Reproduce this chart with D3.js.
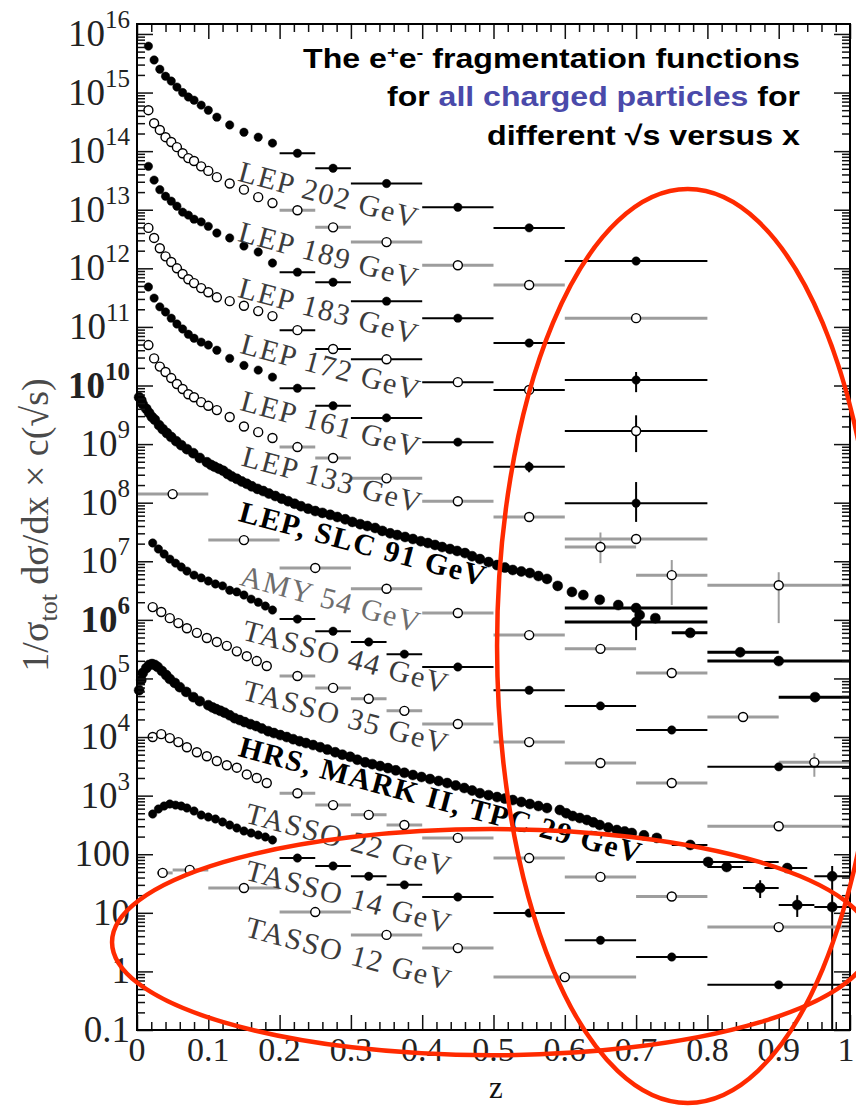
<!DOCTYPE html>
<html>
<head>
<meta charset="utf-8">
<script src="https://cdn.jsdelivr.net/npm/d3@7"></script>
<style>
  body { margin: 0; background: #fff; }
  svg { display: block; }
</style>
</head>
<body>
<script>
// ---- data ----

// LEP samples share the fine low-z binning and the wide high-z bins
var lepDenseZ = [0.016, 0.024, 0.032, 0.040, 0.048, 0.056, 0.064, 0.072, 0.080, 0.090, 0.100, 0.112, 0.130, 0.150, 0.170, 0.190];
var lepBinZ  = [0.225, 0.275, 0.35, 0.45, 0.55, 0.70];
var lepBinLo = [0.20, 0.25, 0.30, 0.40, 0.50, 0.60];
var lepBinHi = [0.25, 0.30, 0.40, 0.50, 0.60, 0.80];

var lep202Dense = [6.2e15, 3.6e15, 2.5e15, 1.9e15, 1.57e15, 1.24e15, 1.0e15, 8.4e14, 7.4e14, 6.1e14, 5.0e14, 3.8e14, 2.8e14, 2.1e14, 1.73e14, 1.37e14];
var lep202Bins  = [9.2e13, 5.1e13, 2.8e13, 1.1e13, 4.9e12, 1.33e12];
var lep189Dense = [5.0e14, 3.0e14, 2.3e14, 1.73e14, 1.43e14, 1.17e14, 9.2e13, 7.6e13, 6.8e13, 5.5e13, 4.6e13, 3.6e13, 2.8e13, 2.2e13, 1.64e13, 1.3e13];
var lep189Bins  = [9.8e12, 5.0e12, 2.8e12, 1.13e12, 5.2e11, 1.41e11];
var lep183Dense = [5.5e13, 3.2e13, 2.2e13, 1.7e13, 1.4e13, 1.15e13, 9.1e12, 8.1e12, 6.9e12, 6.2e12, 5.2e12, 4.0e12, 3.3e12, 2.4e12, 1.9e12, 1.23e12];
var lep183Bins  = [8.6e11, 5.8e11, 2.75e11, 1.41e11, 5.3e10, 1.24e10];
var lep183Err   = [null, null, null, null, null, [7.7e9, 1.7e10]];
var lep172Dense = [4.9e12, 3.3e12, 2.2e12, 1.6e12, 1.28e12, 1.0e12, 8.0e11, 6.5e11, 5.6e11, 4.6e11, 3.9e11, 3.2e11, 2.75e11, 2.3e11, 1.86e11, 1.53e11];
var lep172Bins  = [8.8e10, 4.2e10, 2.8e10, 1.14e10, 8.4e9, 1.67e9];
var lep172Err   = [null, null, null, null, null, [7.3e8, 3.1e9]];
var lep161Dense = [4.8e11, 3.1e11, 2.2e11, 1.8e11, 1.41e11, 1.12e11, 9.2e10, 7.5e10, 6.4e10, 5.5e10, 4.9e10, 4.0e10, 2.9e10, 2.2e10, 1.83e10, 1.39e10];
var lep161Bins  = [9.0e9, 4.5e9, 2.8e9, 1.08e9, 4.1e8, 9.8e7];
var lep161Err   = [null, null, null, null, [3.3e8, 5.0e8], [4.7e7, 2.25e8]];
var lep133Dense = [4.9e10, 2.9e10, 2.1e10, 1.7e10, 1.34e10, 1.06e10, 8.7e9, 7.1e9, 6.3e9, 5.2e9, 4.5e9, 3.8e9, 2.9e9, 2.0e9, 1.6e9, 1.27e9];
var lep133Bins  = [8.9e8, 5.8e8, 2.6e8, 1.06e8, 5.7e7, 2.4e7];
// second 133 GeV set at high z
var lep133bZ    = [0.65, 0.75, 0.90];
var lep133bLo   = [0.60, 0.70, 0.80];
var lep133bHi   = [0.70, 0.80, 1.00];
var lep133bBins = [1.75e7, 5.8e6, 3.9e6];
var lep133bErr  = [[9.3e6, 3.1e7], [1.79e6, 1.05e7], [8.8e5, 6.5e6]];

// LEP, SLC 91 GeV (two overlapping sets make the thick band)
var slc91Z = [0.003, 0.006, 0.008, 0.013, 0.017, 0.021, 0.025, 0.031, 0.036, 0.042, 0.048, 0.055, 0.062, 0.070, 0.079, 0.088, 0.098, 0.109, 0.121, 0.133, 0.147, 0.161, 0.177, 0.194, 0.212, 0.230, 0.250, 0.271, 0.292, 0.313, 0.334, 0.355, 0.376, 0.398, 0.418, 0.439, 0.460, 0.481, 0.505, 0.527, 0.551, 0.575, 0.610, 0.626, 0.649, 0.675, 0.705, 0.727];
var slc91Dense = [6.3e9, 5.6e9, 4.8e9, 4.0e9, 3.4e9, 2.9e9, 2.6e9, 2.1e9, 1.8e9, 1.54e9, 1.32e9, 1.12e9, 9.6e8, 8.2e8, 7.0e8, 5.8e8, 4.9e8, 4.1e8, 3.5e8, 2.8e8, 2.3e8, 1.9e8, 1.58e8, 1.3e8, 1.06e8, 8.7e7, 7.2e7, 6.2e7, 5.2e7, 4.3e7, 3.7e7, 3.0e7, 2.6e7, 2.2e7, 1.9e7, 1.62e7, 1.38e7, 1.09e7, 8.6e6, 7.1e6, 6.3e6, 5.0e6, 3.0e6, 2.65e6, 2.2e6, 1.79e6, 1.21e6, 1.07e6];
var slc91bZ = [0.104, 0.115, 0.127, 0.140, 0.154, 0.169, 0.185, 0.203, 0.221, 0.240, 0.260, 0.281, 0.302, 0.323, 0.344, 0.365, 0.387, 0.408, 0.428, 0.449, 0.470, 0.493, 0.516, 0.539, 0.563, 0.590];
var slc91bDense = [4.4e8, 3.8e8, 3.1e8, 2.55e8, 2.1e8, 1.72e8, 1.43e8, 1.17e8, 9.6e7, 7.9e7, 6.7e7, 5.7e7, 4.7e7, 4.0e7, 3.3e7, 2.8e7, 2.4e7, 2.05e7, 1.75e7, 1.5e7, 1.22e7, 9.7e6, 7.8e6, 6.7e6, 5.6e6, 3.8e6];
var slc91BinZ  = [0.70, 0.70, 0.776, 0.846, 0.90, 0.951];
var slc91BinLo = [0.60, 0.60, 0.75, 0.80, 0.80, 0.90];
var slc91BinHi = [0.80, 0.80, 0.80, 0.90, 1.00, 1.00];
var slc91Bins  = [1.59e6, 9.2e5, 6.0e5, 2.8e5, 1.98e5, 4.8e4];
var slc91Err   = [null, [4.5e5, 1.79e6], null, null, null, null];

// AMY 54 GeV
var amy54Z    = [0.05, 0.15, 0.25, 0.35, 0.45, 0.55, 0.65, 0.75, 0.85, 0.95];
var amy54Lo   = [0.00, 0.10, 0.20, 0.30, 0.40, 0.50, 0.60, 0.70, 0.80, 0.90];
var amy54Hi   = [0.10, 0.20, 0.30, 0.40, 0.50, 0.60, 0.70, 0.80, 0.90, 1.00];
var amy54Bins = [1.4e8, 2.3e7, 7.7e6, 3.4e6, 1.31e6, 5.5e5, 3.2e5, 1.24e5, 2.2e4, 3.7e3];
var amy54Err  = [null, null, null, null, null, null, null, null, null, [2.1e3, 5.3e3]];

// TASSO binning
var tassoDenseZ = [0.022, 0.030, 0.038, 0.046, 0.054, 0.062, 0.070, 0.080, 0.090, 0.100, 0.110, 0.120, 0.130, 0.140, 0.150, 0.160, 0.170, 0.180, 0.190];
var tassoOpenZ  = [0.022, 0.034, 0.046, 0.058, 0.070, 0.084, 0.098, 0.112, 0.126, 0.140, 0.154, 0.168, 0.182];
var tassoBinZ  = [0.225, 0.275, 0.325, 0.375, 0.45, 0.55, 0.65, 0.75, 0.90];
var tassoBinLo = [0.20, 0.25, 0.30, 0.35, 0.40, 0.50, 0.60, 0.70, 0.80];
var tassoBinHi = [0.25, 0.30, 0.35, 0.40, 0.50, 0.60, 0.70, 0.80, 1.00];

var tasso44Dense = [2.05e7, 1.62e7, 1.33e7, 1.09e7, 9.3e6, 8.0e6, 6.8e6, 5.8e6, 5.2e6, 4.6e6, 4.1e6, 3.8e6, 3.2e6, 3.0e6, 2.65e6, 2.26e6, 2.0e6, 1.72e6, 1.47e6];
var tasso44Bins  = [1.03e6, 6.4e5, 4.2e5, 2.6e5, 1.57e5, 6.3e4, 3.4e4, 1.32e4, 3.1e3];
var tasso35Dense = [1.65e6, 1.36e6, 1.07e6, 8.8e5, 7.2e5, 6.0e5, 4.9e5, 4.2e5, 3.6e5, 2.9e5, 2.4e5, 1.98e5, 1.63e5];
var tasso35Bins  = [1.1e5, 6.9e4, 4.5e4, 2.8e4, 1.67e4, 8.2e3, 3.6e3, 1.64e3, 300];
var tasso22Dense = [1.0e4, 1.12e4, 9.6e3, 8.2e3, 6.7e3, 5.5e3, 4.7e3, 3.9e3, 3.3e3, 3.0e3, 2.3e3, 2.0e3, 1.64e3];
var tasso22Bins  = [1100, 690, 470, 315, 190, 86, 41, 19, 5.7];
var tasso14Dense = [485, 590, 664, 720, 690, 664, 614, 546, 467, 431, 399, 355, 315, 280, 249, 230, 213, 197, 175];
var tasso14Bins  = [86, 63, 42, 30, 18.6, 9.9, 3.4, 1.76, 0.59];

var tasso12Z    = [0.036, 0.074, 0.15, 0.25, 0.35, 0.45, 0.60];
var tasso12Lo   = [0.028, 0.05, 0.10, 0.20, 0.30, 0.40, 0.50];
var tasso12Hi   = [0.05, 0.10, 0.20, 0.30, 0.40, 0.50, 0.70];
var tasso12Bins = [48, 54, 26.5, 10.3, 4.2, 2.5, 0.80];

// HRS, MARK II, TPC 29 GeV (two overlapping sets)
var hrs29Z = [0.003, 0.006, 0.008, 0.013, 0.017, 0.021, 0.025, 0.029, 0.035, 0.041, 0.046, 0.053, 0.060, 0.069, 0.079, 0.088, 0.100, 0.111, 0.123, 0.137, 0.151, 0.167, 0.184, 0.201, 0.219, 0.237, 0.257, 0.278, 0.299, 0.320, 0.341, 0.363, 0.387, 0.411, 0.435, 0.459, 0.481, 0.505, 0.527, 0.551, 0.575, 0.593, 0.611, 0.631, 0.649, 0.673, 0.694, 0.729];
var hrs29Dense = [6.3e4, 9.4e4, 1.24e5, 1.5e5, 1.7e5, 1.76e5, 1.7e5, 1.57e5, 1.34e5, 1.14e5, 9.8e4, 8.4e4, 7.1e4, 5.9e4, 4.8e4, 4.1e4, 3.5e4, 3.0e4, 2.6e4, 2.1e4, 1.8e4, 1.54e4, 1.26e4, 1.08e4, 9.2e3, 7.9e3, 6.7e3, 5.5e3, 4.6e3, 3.7e3, 3.2e3, 2.7e3, 2.25e3, 1.92e3, 1.64e3, 1.35e3, 1.1e3, 946, 841, 720, 614, 568, 449, 384, 315, 259, 230, 190];
var hrs29bZ = [0.106, 0.117, 0.130, 0.144, 0.159, 0.175, 0.192, 0.210, 0.228, 0.247, 0.267, 0.288, 0.309, 0.330, 0.352, 0.375, 0.399, 0.423, 0.447, 0.470, 0.493, 0.516, 0.539, 0.563, 0.602, 0.621, 0.640, 0.661, 0.684, 0.711];
var hrs29bDense = [3.2e4, 2.8e4, 2.35e4, 1.95e4, 1.66e4, 1.4e4, 1.17e4, 1.0e4, 8.5e3, 7.3e3, 6.1e3, 5.0e3, 4.1e3, 3.45e3, 2.95e3, 2.45e3, 2.08e3, 1.78e3, 1.49e3, 1.22e3, 1.02e3, 890, 780, 665, 500, 415, 350, 285, 245, 210];
var hrs29BinZ  = [0.776, 0.801, 0.827, 0.874, 0.912, 0.926, 0.975, 0.975];
var hrs29BinLo = [0.75, 0.70, 0.80, 0.85, 0.88, 0.90, 0.95, 0.95];
var hrs29BinHi = [0.80, 0.90, 0.85, 0.90, 0.94, 0.95, 1.00, 1.00];
var hrs29Bins  = [144, 74, 60.5, 26.5, 58, 13.6, 42, 12.6];
var hrs29Err   = [null, null, null, [17.9, 36], null, [8.5, 20], [0.1, 63], null];

// curve labels and where they sit
var labelText = ["LEP 202 GeV", "LEP 189 GeV", "LEP 183 GeV", "LEP 172 GeV", "LEP 161 GeV", "LEP 133 GeV",
                 "LEP, SLC 91 GeV", "AMY 54 GeV", "TASSO 44 GeV", "TASSO 35 GeV",
                 "HRS, MARK II, TPC 29 GeV", "TASSO 22 GeV", "TASSO 14 GeV", "TASSO 12 GeV"];
var labelZ = [0.268, 0.268, 0.268, 0.271, 0.271, 0.273, 0.316, 0.271, 0.292, 0.292, 0.425, 0.296, 0.296, 0.296];
var labelV = [1.6e13, 1.5e12, 1.66e11, 1.83e10, 1.95e9, 2.2e8, 1.75e7, 2.0e6, 2.06e5, 1.95e4, 748, 155, 16.5, 1.78];

var xTicks = [0, 0.1, 0.2, 0.3, 0.4, 0.5, 0.6, 0.7, 0.8, 0.9, 1];
var xTickLabels = ["0", "0.1", "0.2", "0.3", "0.4", "0.5", "0.6", "0.7", "0.8", "0.9", "1"];
var yTicks = [0.1, 1, 10, 100, 1e3, 1e4, 1e5, 1e6, 1e7, 1e8, 1e9, 1e10, 1e11, 1e12, 1e13, 1e14, 1e15, 1e16];
var yTickExp = [-1, 0, 1, 2, 3, 4, 5, 6, 7, 8, 9, 10, 11, 12, 13, 14, 15, 16];

// hand-drawn red ellipses (bounding boxes in data units)
var circledZ0 = [0.505, -0.035], circledZ1 = [1.04, 1.03];
var circledV0 = [5.7e-3, 0.037], circledV1 = [2.25e13, 269];

// ---- drawing ----
var width = 856,
    height = 1106;

var serif = "'Liberation Serif', 'Times New Roman', 'DejaVu Serif', serif";
var sans = "'Liberation Sans', Arial, Helvetica, sans-serif";

var svg = d3.select("body").append("svg")
    .attr("width", width)
    .attr("height", height);

svg.append("rect").attr("width", width).attr("height", height).attr("fill", "#fff");

var x = d3.scaleLinear().domain([0, 1]).range([137, 850]);
var y = d3.scaleLog().domain([0.1, Math.pow(10, 16.17)]).range([1030, 24]);

var gray = "#9d9d9d";

var series = [
  {z: lepDenseZ, v: lep202Dense, bz: lepBinZ, blo: lepBinLo, bhi: lepBinHi, bv: lep202Bins, open: false},
  {z: lepDenseZ, v: lep189Dense, bz: lepBinZ, blo: lepBinLo, bhi: lepBinHi, bv: lep189Bins, open: true},
  {z: lepDenseZ, v: lep183Dense, bz: lepBinZ, blo: lepBinLo, bhi: lepBinHi, bv: lep183Bins, berr: lep183Err, open: false},
  {z: lepDenseZ, v: lep172Dense, bz: lepBinZ, blo: lepBinLo, bhi: lepBinHi, bv: lep172Bins, berr: lep172Err, open: true, bar: "#000"},
  {z: lepDenseZ, v: lep161Dense, bz: lepBinZ, blo: lepBinLo, bhi: lepBinHi, bv: lep161Bins, berr: lep161Err, open: false},
  {z: lepDenseZ, v: lep133Dense, bz: lepBinZ, blo: lepBinLo, bhi: lepBinHi, bv: lep133Bins, open: true},
  {bz: lep133bZ, blo: lep133bLo, bhi: lep133bHi, bv: lep133bBins, berr: lep133bErr, open: true},
  {z: slc91Z, v: slc91Dense, bz: slc91BinZ, blo: slc91BinLo, bhi: slc91BinHi, bv: slc91Bins, berr: slc91Err, open: false, r: 5, barW: 3},
  {z: slc91bZ, v: slc91bDense, open: false, r: 5},
  {bz: amy54Z, blo: amy54Lo, bhi: amy54Hi, bv: amy54Bins, berr: amy54Err, open: true},
  {z: tassoDenseZ, v: tasso44Dense, bz: tassoBinZ, blo: tassoBinLo, bhi: tassoBinHi, bv: tasso44Bins, open: false},
  {z: tassoOpenZ, v: tasso35Dense, bz: tassoBinZ, blo: tassoBinLo, bhi: tassoBinHi, bv: tasso35Bins, open: true},
  {z: hrs29Z, v: hrs29Dense, bz: hrs29BinZ, blo: hrs29BinLo, bhi: hrs29BinHi, bv: hrs29Bins, berr: hrs29Err, open: false, r: 5},
  {z: hrs29bZ, v: hrs29bDense, open: false, r: 5},
  {z: tassoOpenZ, v: tasso22Dense, bz: tassoBinZ, blo: tassoBinLo, bhi: tassoBinHi, bv: tasso22Bins, open: true},
  {z: tassoDenseZ, v: tasso14Dense, bz: tassoBinZ, blo: tassoBinLo, bhi: tassoBinHi, bv: tasso14Bins, open: false},
  {bz: tasso12Z, blo: tasso12Lo, bhi: tasso12Hi, bv: tasso12Bins, open: true}
];

var gData = svg.append("g").attr("class", "data");

series.forEach(function(s) {
  var g = gData.append("g");
  var barColor = s.bar || (s.open ? gray : "#000");
  var barW = s.barW || (s.open && !s.bar ? 3 : 2);

  var bins = (s.bz || []).map(function(z, i) {
    return {z: z, lo: s.blo[i], hi: s.bhi[i], v: s.bv[i], err: s.berr ? s.berr[i] : null};
  });
  var dense = (s.z || []).map(function(z, i) { return {z: z, v: s.v[i]}; });

  g.selectAll("line.h").data(bins).enter().append("line")
      .attr("class", "h")
      .attr("x1", function(d) { return x(d.lo); })
      .attr("x2", function(d) { return x(d.hi); })
      .attr("y1", function(d) { return y(d.v); })
      .attr("y2", function(d) { return y(d.v); })
      .attr("stroke", barColor)
      .attr("stroke-width", barW);

  g.selectAll("line.v").data(bins.filter(function(d) { return d.err; })).enter().append("line")
      .attr("class", "v")
      .attr("x1", function(d) { return x(d.z); })
      .attr("x2", function(d) { return x(d.z); })
      .attr("y1", function(d) { return y(d.err[0]); })
      .attr("y2", function(d) { return y(d.err[1]); })
      .attr("stroke", barColor)
      .attr("stroke-width", 2);

  g.selectAll("circle").data(dense.concat(bins)).enter().append("circle")
      .attr("cx", function(d) { return x(d.z); })
      .attr("cy", function(d) { return y(d.v); })
      .attr("r", s.r || (s.open ? 4.5 : 4.2))
      .attr("fill", s.open ? "#fff" : "#000")
      .attr("stroke", "#000")
      .attr("stroke-width", s.open ? 1.4 : 0.5);
});

// ---- axes: ticks on all four sides, pointing in ----
var xMinor = d3.range(0, 1.001, 0.02).filter(function(t) { return Math.abs(t * 10 - Math.round(t * 10)) > 1e-6; });
var yMinor = [];
yTicks.slice(0, -1).forEach(function(t) {
  for (var m = 2; m <= 9; m++) yMinor.push(t * m);
});

function tickStyle(sel) {
  sel.select(".domain").remove();
  sel.selectAll("line").attr("stroke", "#111").attr("stroke-width", 1.5);
}

svg.append("g").attr("transform", "translate(0,1030)")
    .call(d3.axisBottom(x).tickValues(xTicks).tickSizeInner(-15).tickSizeOuter(0).tickFormat(""))
    .call(tickStyle);
svg.append("g").attr("transform", "translate(0,1030)")
    .call(d3.axisBottom(x).tickValues(xMinor).tickSizeInner(-8).tickSizeOuter(0).tickFormat(""))
    .call(tickStyle);
svg.append("g").attr("transform", "translate(0,24)")
    .call(d3.axisTop(x).tickValues(xTicks).tickSizeInner(-15).tickSizeOuter(0).tickFormat(""))
    .call(tickStyle);
svg.append("g").attr("transform", "translate(0,24)")
    .call(d3.axisTop(x).tickValues(xMinor).tickSizeInner(-8).tickSizeOuter(0).tickFormat(""))
    .call(tickStyle);
svg.append("g").attr("transform", "translate(137,0)")
    .call(d3.axisLeft(y).tickValues(yTicks).tickSizeInner(-16).tickSizeOuter(0).tickFormat(""))
    .call(tickStyle);
svg.append("g").attr("transform", "translate(137,0)")
    .call(d3.axisLeft(y).tickValues(yMinor).tickSizeInner(-8).tickSizeOuter(0).tickFormat(""))
    .call(tickStyle);
svg.append("g").attr("transform", "translate(850,0)")
    .call(d3.axisRight(y).tickValues(yTicks).tickSizeInner(-16).tickSizeOuter(0).tickFormat(""))
    .call(tickStyle);
svg.append("g").attr("transform", "translate(850,0)")
    .call(d3.axisRight(y).tickValues(yMinor).tickSizeInner(-8).tickSizeOuter(0).tickFormat(""))
    .call(tickStyle);

svg.append("rect")
    .attr("x", 137).attr("y", 24)
    .attr("width", 713).attr("height", 1006)
    .attr("fill", "none")
    .attr("stroke", "#000")
    .attr("stroke-width", 2);

// x tick labels (the last one is pulled in so it stays on the page)
svg.append("g").selectAll("text").data(xTicks).enter().append("text")
    .attr("x", function(d) { return d === 1 ? x(d) - 4 : x(d); })
    .attr("y", 1061)
    .attr("text-anchor", "middle")
    .attr("font-family", serif)
    .attr("font-size", 34)
    .attr("fill", "#222")
    .text(function(d, i) { return xTickLabels[i]; });

// y tick labels, powers of ten as superscripts
var yLab = svg.append("g").selectAll("text").data(yTicks).enter().append("text")
    .attr("x", 130)
    .attr("y", function(d) { return y(d) + 12; })
    .attr("text-anchor", "end")
    .attr("font-family", serif)
    .attr("font-size", 37)
    .attr("fill", "#222")
    .attr("font-weight", function(d, i) { return (yTickExp[i] === 10 || yTickExp[i] === 6) ? "bold" : null; });

yLab.each(function(d, i) {
  var t = d3.select(this), e = yTickExp[i];
  if (e < 3) {
    t.text(e < 0 ? "0.1" : String(d));
  } else {
    t.append("tspan").text("10");
    t.append("tspan").attr("dy", -18).attr("font-size", 25).text(e);
  }
});

// axis titles
svg.append("text")
    .attr("x", 496).attr("y", 1098)
    .attr("text-anchor", "middle")
    .attr("font-family", serif)
    .attr("font-size", 31)
    .attr("fill", "#111")
    .text("z");

var yTitle = svg.append("text")
    .attr("transform", "translate(48,525) rotate(-90)")
    .attr("text-anchor", "middle")
    .attr("font-family", serif)
    .attr("font-size", 38)
    .attr("fill", "#4a4a4a");
yTitle.append("tspan").text("1/σ");
yTitle.append("tspan").attr("dy", 9).attr("font-size", 26).text("tot");
yTitle.append("tspan").attr("dy", -9).text(" dσ/dx × c(√s)");

// curve labels, tilted along the curves
var labelStyle = labelText.map(function(t) {
  if (t.indexOf("91") >= 0 || t.indexOf("29") >= 0) return {fill: "#000", weight: "bold"};
  if (t.indexOf("AMY") === 0) return {fill: "#6e6e6e", weight: null};
  return {fill: "#3c3c3c", weight: null};
});

svg.append("g").selectAll("text").data(labelText).enter().append("text")
    .attr("transform", function(d, i) { return "translate(" + x(labelZ[i]) + "," + y(labelV[i]) + ") rotate(15)"; })
    .attr("text-anchor", "middle")
    .attr("dominant-baseline", "middle")
    .attr("font-family", serif)
    .attr("font-size", 30)
    .attr("letter-spacing", 1.5)
    .attr("fill", function(d, i) { return labelStyle[i].fill; })
    .attr("font-weight", function(d, i) { return labelStyle[i].weight; })
    .text(function(d) { return d; });

// title block, right aligned, stretched to the widths seen in the figure
var title = svg.append("g")
    .attr("font-family", sans)
    .attr("font-weight", "bold")
    .attr("font-size", 27)
    .attr("fill", "#000")
    .attr("text-anchor", "end");

var t1 = title.append("text").attr("x", 800).attr("y", 68)
    .attr("textLength", 497).attr("lengthAdjust", "spacingAndGlyphs");
t1.append("tspan").text("The e");
t1.append("tspan").attr("dy", -10).attr("font-size", 17).text("+");
t1.append("tspan").attr("dy", 10).text("e");
t1.append("tspan").attr("dy", -10).attr("font-size", 17).text("-");
t1.append("tspan").attr("dy", 10).text(" fragmentation functions");

var t2 = title.append("text").attr("x", 800).attr("y", 106)
    .attr("textLength", 413).attr("lengthAdjust", "spacingAndGlyphs");
t2.append("tspan").text("for ");
t2.append("tspan").attr("fill", "#4a4aaa").text("all charged particles");
t2.append("tspan").text(" for");

title.append("text").attr("x", 800).attr("y", 145)
    .attr("textLength", 313).attr("lengthAdjust", "spacingAndGlyphs")
    .text("different √s versus x");

// red annotation ellipses on top
svg.append("g").selectAll("ellipse").data(circledZ0).enter().append("ellipse")
    .attr("cx", function(d, i) { return (x(circledZ0[i]) + x(circledZ1[i])) / 2; })
    .attr("cy", function(d, i) { return (y(circledV0[i]) + y(circledV1[i])) / 2; })
    .attr("rx", function(d, i) { return (x(circledZ1[i]) - x(circledZ0[i])) / 2; })
    .attr("ry", function(d, i) { return (y(circledV0[i]) - y(circledV1[i])) / 2; })
    .attr("fill", "none")
    .attr("stroke", "#ff2a00")
    .attr("stroke-width", 4.5);
</script>
</body>
</html>
